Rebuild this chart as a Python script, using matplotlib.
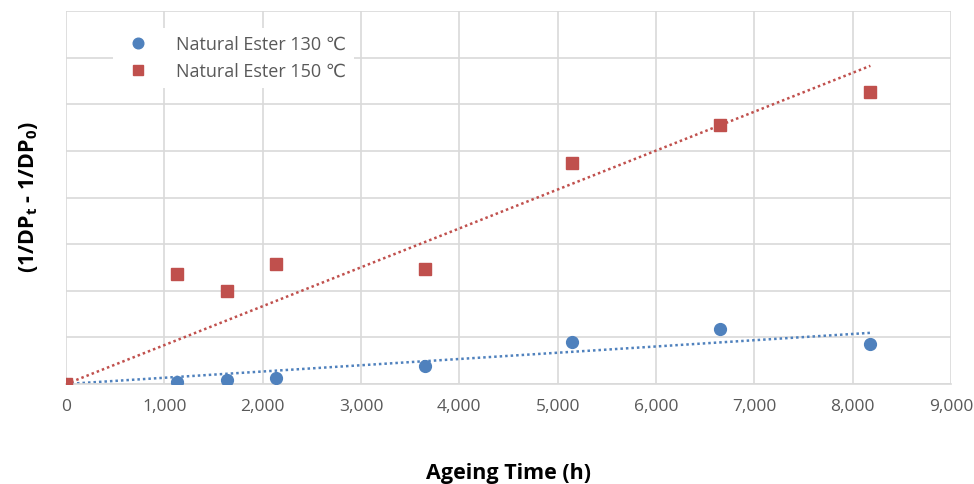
import matplotlib.pyplot as plt
import numpy as np
from matplotlib.ticker import FuncFormatter

plt.rcParams['font.family'] = ['Open Sans', 'DejaVu Sans']
plt.rcParams['mathtext.fontset'] = 'custom'
plt.rcParams['mathtext.bf'] = 'Open Sans:bold'
plt.rcParams['mathtext.rm'] = 'Open Sans'

# ageing time (h)
hours = [0, 1130, 1640, 2140, 3650, 5150, 6650, 8180]
# y values in grid units (axis has no labels)
ester_130 = [0, 0.04, 0.09, 0.13, 0.39, 0.90, 1.18, 0.86]
ester_150 = [0, 2.36, 1.99, 2.58, 2.47, 4.74, 5.56, 6.27]

blue = '#4F81BD'
red = '#C0504D'

fig = plt.figure(figsize=(9.74, 4.84), dpi=100)
ax = fig.add_axes([0.0678, 0.2066, 0.9086, 0.7704])

x = np.array(hours, dtype=float)
for vals, col, mk, ms, lab in [(ester_130, blue, 'o', 8.5, 'Natural Ester 130 ℃'),
                               (ester_150, red, 's', 8.5, 'Natural Ester 150 ℃')]:
    y = np.array(vals)
    ax.plot(x, y, linestyle='none', marker=mk, markersize=ms, color=col, label=lab, zorder=3)
    # linear trend line through origin
    k = (x * y).sum() / (x * x).sum()
    xt = np.array([0, x.max()])
    ax.plot(xt, k * xt, linestyle=(0, (1, 1.2)), linewidth=1.8, color=col, zorder=2)

ax.set_xlim(0, 9000)
ax.set_ylim(0, 8)
ax.set_xticks(np.arange(0, 9001, 1000))
ax.set_yticks(np.arange(0, 8.1, 1))
ax.xaxis.set_major_formatter(FuncFormatter(lambda v, p: f'{int(v):,}'))
ax.set_yticklabels([])
ax.tick_params(axis='both', length=0, colors='#595959', labelsize=12.5, pad=11)
ax.grid(True, color='#d9d9d9', linewidth=1.2)
ax.set_axisbelow(True)
for s in ['top', 'right', 'left']:
    ax.spines[s].set_visible(False)
ax.spines['bottom'].set_color('#d9d9d9')
ax.spines['bottom'].set_linewidth(1.2)

ax.set_xlabel('Ageing Time (h)', fontsize=15.5, fontweight='bold', labelpad=34)
ax.set_ylabel(r'(1/DP$_\mathbf{t}$ - 1/DP$_\mathbf{0}$)', fontsize=15.5, fontweight='bold',
              labelpad=8)

leg = ax.legend(loc='upper left', bbox_to_anchor=(0.043, 0.978), frameon=True, fontsize=13,
                handletextpad=1.1, borderpad=0.4, labelspacing=0.5, markerscale=0.9)
leg.get_frame().set_edgecolor('none')
leg.get_frame().set_facecolor('white')
leg.get_frame().set_alpha(1)
for t in leg.get_texts():
    t.set_color('#595959')

fig.savefig('out.png', dpi=100)
